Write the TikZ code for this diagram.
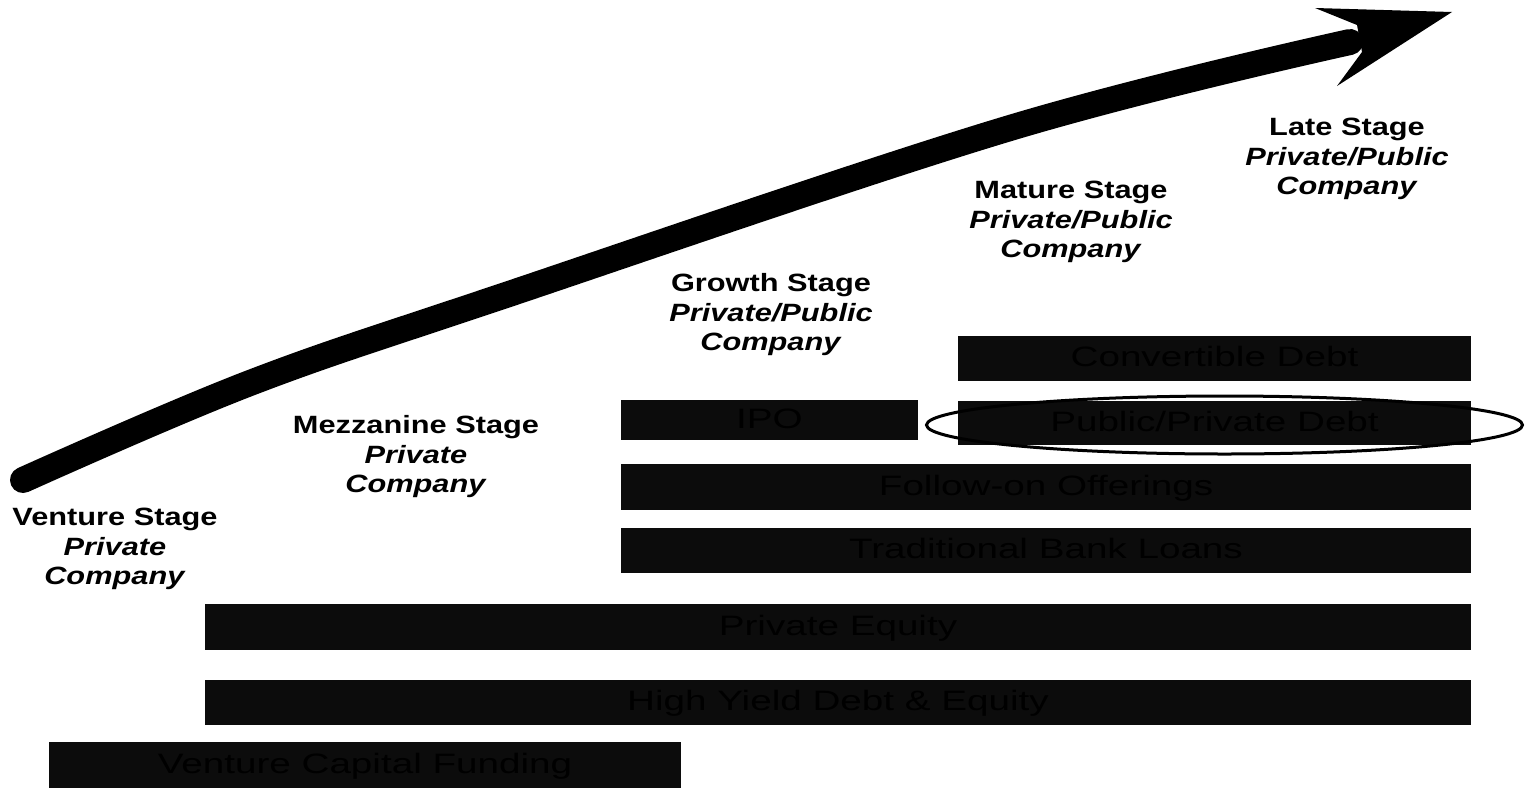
\documentclass[tikz,border=0pt]{standalone}
\usepackage{fontspec}
\setmainfont{Liberation Sans}
\newfontfamily\stagefont[FakeStretch=1.23]{Liberation Sans}
\newfontfamily\barfont[FakeStretch=1.38]{Liberation Sans}
\usepackage{xcolor}
\usepackage{pdfrender}
\usepackage{tikz}

\definecolor{barfill}{HTML}{0C0C0C}
\definecolor{barline}{HTML}{4A4A4A}
\newcommand{\outlined}[1]{\textpdfrender{TextRenderingMode=Stroke,LineWidth=0.3pt,StrokeColor=barline}{#1}}

\tikzset{
  stage/.style={anchor=north, align=center, inner sep=0pt,
    font=\stagefont\bfseries\fontsize{14.23}{16.8}\selectfont},
  bar/.style={fill=barfill},
  bartext/.style={inner sep=0pt, text height=0.72em, text depth=0pt, yshift=-0.4mm,
    font=\barfont\fontsize{15.93}{18}\selectfont},
}

\begin{document}
\begin{tikzpicture}[x=0.2mm,y=-0.2mm]
\useasboundingbox (0,0) rectangle (1528,789);

\coordinate (start) at (23,480);
\coordinate (shaftend) at (1350,42);
\coordinate (tip) at (1452,12);
\draw[line width=5.2mm, line cap=round] plot[smooth, tension=0.6] coordinates {(start) (250,383) (500,297) (1010,128) (shaftend)};
\fill (tip) -- (1315,8) -- (1357,25) -- (1362,52) -- (1337,86) -- cycle;

\node[stage] (venture) at (115,508) {Venture Stage\\\textit{Private}\\\textit{Company}};
\node[stage] (mezzanine) at (416,415) {Mezzanine Stage\\\textit{Private}\\\textit{Company}};
\node[stage] (growth) at (771,273) {Growth Stage\\\textit{Private/Public}\\\textit{Company}};
\node[stage] (mature) at (1071,181) {Mature Stage\\\textit{Private/Public}\\\textit{Company}};
\node[stage] (late) at (1347,118) {Late Stage\\\textit{Private/Public}\\\textit{Company}};

\fill[bar] (958,336) rectangle (1471,381) node[bartext, midway] (cdebt) {\outlined{Convertible Debt}};
\fill[bar] (621,400) rectangle (918,440) node[bartext, midway] (ipo) {\outlined{IPO}};
\fill[bar] (958,401) rectangle (1471,445) node[bartext, midway] (ppdebt) {\outlined{Public/Private Debt}};
\fill[bar] (621,464) rectangle (1471,510) node[bartext, midway] (followon) {\outlined{Follow-on Offerings}};
\fill[bar] (621,528) rectangle (1471,573) node[bartext, midway] (bankloans) {\outlined{Traditional Bank Loans}};
\fill[bar] (205,604) rectangle (1471,650) node[bartext, midway] (privequity) {\outlined{Private Equity}};
\fill[bar] (205,680) rectangle (1471,725) node[bartext, midway] (highyield) {\outlined{High Yield Debt \& Equity}};
\fill[bar] (49,742) rectangle (681,788) node[bartext, midway] (vcfund) {\outlined{Venture Capital Funding}};

\draw[line width=0.6mm] ([xshift=2mm]ppdebt.center) ellipse [x radius=298, y radius=29];
\end{tikzpicture}
\end{document}
